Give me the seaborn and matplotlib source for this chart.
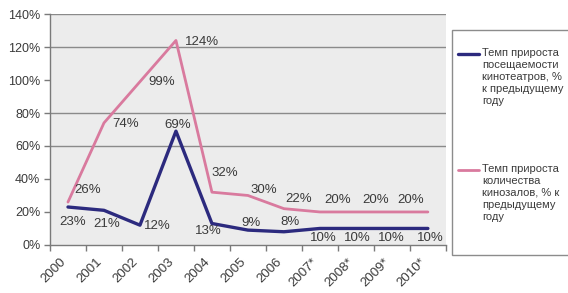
import matplotlib.pyplot as plt
import seaborn as sns
import pandas as pd
from matplotlib.lines import Line2D
from matplotlib.patches import Rectangle

# данные
years = ['2000', '2001', '2002', '2003', '2004', '2005', '2006',
         '2007*', '2008*', '2009*', '2010*']
attendance = [23, 21, 12, 69, 13, 9, 8, 10, 10, 10, 10]   # посещаемость
halls = [26, 74, 99, 124, 32, 30, 22, 20, 20, 20, 20]      # кинозалы
halls_shown = [True] * 10 + [False]  # у последней точки подписи нет
y_ticks = [0, 20, 40, 60, 80, 100, 120, 140]
grid_lines = [60, 80, 120, 140]

name_att = 'Темп прироста\nпосещаемости\nкинотеатров, %\nк предыдущему\nгоду'
name_halls = 'Темп прироста\nколичества\nкинозалов, % к\nпредыдущему\nгоду'

# сдвиги подписей в пикселях
att_off = [(5, -15), (3, -14), (17, -1), (2, 6), (-4, -7), (3, 7), (6, 10),
           (3, -10), (1, -10), (-1, -10), (2, -10)]
halls_off = [(20, 12), (22, -1), (22, 0), (26, -2), (13, 19), (16, 5),
             (15, 10), (18, 12), (20, 12), (19, 12), (0, 0)]

sns.set_style('white')
plt.rcParams['font.family'] = ['Liberation Sans', 'DejaVu Sans']

blue = '#2c2a7e'
pink = '#d97a9e'
txt = '#3a3a3a'

df = pd.DataFrame({'pos': range(len(years)), 'year': years,
                   'att': attendance, 'halls': halls})

W, H = 568, 293
fig = plt.figure(figsize=(W / 100, H / 100), dpi=100)
ax = fig.add_axes([0.088, 0.164, 0.697, 0.788])
ax.set_facecolor('#ececec')

for v in grid_lines:
    ax.axhline(v, color='#8a8a8a', lw=1, zorder=0.5)

sns.lineplot(data=df, x='pos', y='att', color=blue, lw=2.4, ax=ax,
             legend=False, zorder=3)
sns.lineplot(data=df, x='pos', y='halls', color=pink, lw=2.0, ax=ax,
             legend=False, zorder=2)

for i, (v, (dx, dy)) in enumerate(zip(attendance, att_off)):
    ax.annotate(f'{v}%', (i, v), xytext=(dx, dy), textcoords='offset pixels',
                ha='center', va='center', fontsize=9.5, color=txt, zorder=4)
for i, (v, (dx, dy)) in enumerate(zip(halls, halls_off)):
    if halls_shown[i]:
        ax.annotate(f'{v}%', (i, v), xytext=(dx, dy), textcoords='offset pixels',
                    ha='center', va='center', fontsize=9.5, color=txt, zorder=4)

ax.set_xlim(-0.5, len(years) - 0.5)
ax.set_ylim(0, 140)
ax.set_yticks(y_ticks)
ax.set_yticklabels([f'{t}%' for t in y_ticks])
ax.set_xticks(range(len(years)))
ax.set_xticklabels(years, rotation=45, ha='right')
ax.set_xticks([i - 0.5 for i in range(len(years) + 1)], minor=True)
ax.tick_params(axis='x', which='major', length=0, pad=8, labelsize=9.5, labelcolor=txt)
ax.tick_params(axis='x', which='minor', length=4, width=1, color='#7a7a7a', bottom=True)
ax.tick_params(axis='y', length=4, width=1, color='#7a7a7a', left=True, pad=3,
               labelsize=9, labelcolor=txt)
ax.set_xlabel('')
ax.set_ylabel('')

for s in ['top', 'right']:
    ax.spines[s].set_visible(False)
for s in ['left', 'bottom']:
    ax.spines[s].set_color('#7a7a7a')
    ax.spines[s].set_linewidth(1)

# легенда справа (рамка уходит за край картинки)
def fx(px):
    return px / W

def fy(py):
    return 1 - py / H

fig.add_artist(Rectangle((fx(452), fy(255)), fx(130), fy(30) - fy(255),
                         transform=fig.transFigure, facecolor='white',
                         edgecolor='#8c8c8c', lw=1, clip_on=False))
for name, col, lw, top in [(name_att, blue, 2.4, 54), (name_halls, pink, 2.0, 170)]:
    fig.add_artist(Line2D([fx(458), fx(479)], [fy(top), fy(top)], color=col, lw=lw,
                          transform=fig.transFigure))
    fig.text(fx(482), fy(top - 6), name, ha='left', va='top', fontsize=8,
             color=txt, linespacing=1.24)

fig.savefig('out.png', dpi=100)
